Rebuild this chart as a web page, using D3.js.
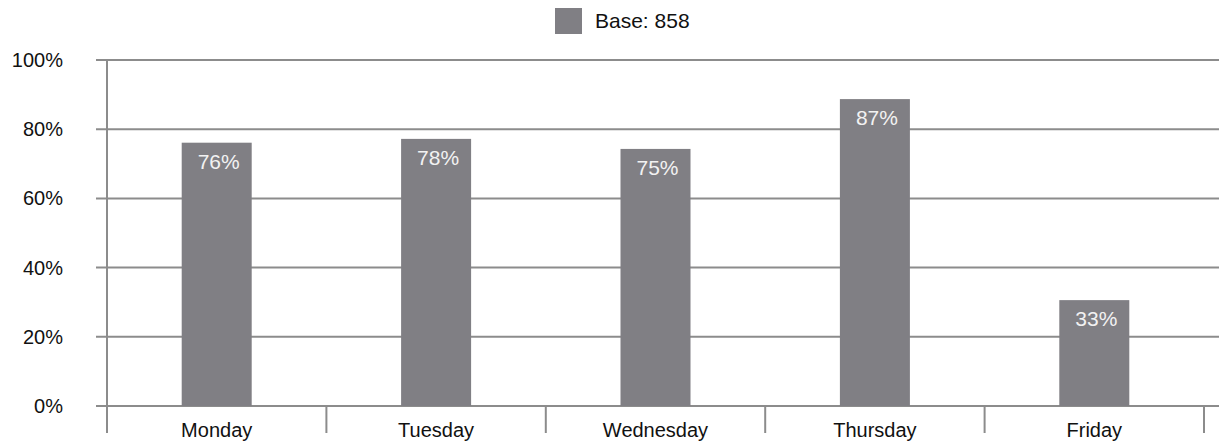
<!DOCTYPE html>
<html>
<head>
<meta charset="utf-8">
<script src="https://cdn.jsdelivr.net/npm/d3@7"></script>
<style>
  body { margin: 0; background: #fff; }
  svg text { font-family: "Liberation Sans", Arial, sans-serif; }
</style>
</head>
<body>
<div id="chart"></div>
<script>
// chart data
const days = ["Monday", "Tuesday", "Wednesday", "Thursday", "Friday"];
const barValues = [76.1, 77.2, 74.3, 88.7, 30.6];
const barLabels = ["76%", "78%", "75%", "87%", "33%"];
const yTicks = [0, 20, 40, 60, 80, 100];
const legendLabel = "Base: 858";

const width = 1219, height = 443;
const margin = { top: 60, right: 15, bottom: 37, left: 107 };
const innerW = width - margin.left - margin.right;
const innerH = height - margin.top - margin.bottom;

const barColor = "#807f84";
const lineColor = "#8c8c8c";

const svg = d3.select("#chart").append("svg")
    .attr("width", width)
    .attr("height", height);

const g = svg.append("g")
    .attr("transform", `translate(${margin.left},${margin.top})`);

const x = d3.scaleBand().domain(days).range([0, innerW]).padding(0);
const y = d3.scaleLinear().domain([0, 100]).range([innerH, 0]);

// gridlines (also y ticks, extending left of axis)
g.selectAll(".grid")
    .data(yTicks)
    .enter().append("line")
    .attr("x1", -11)
    .attr("x2", width - margin.left)
    .attr("y1", d => y(d))
    .attr("y2", d => y(d))
    .attr("stroke", lineColor)
    .attr("stroke-width", 2);

// y labels
g.selectAll(".ylab")
    .data(yTicks)
    .enter().append("text")
    .attr("x", -44)
    .attr("y", d => y(d))
    .attr("dy", "0.35em")
    .attr("text-anchor", "end")
    .attr("font-size", 20)
    .attr("fill", "#111")
    .text(d => d + "%");

// y axis line
g.append("line")
    .attr("x1", 0).attr("x2", 0)
    .attr("y1", 0).attr("y2", innerH + 27)
    .attr("stroke", lineColor)
    .attr("stroke-width", 2);

// x category boundary ticks
const bounds = days.map(d => x(d) + x.bandwidth());
g.selectAll(".xtick")
    .data(bounds)
    .enter().append("line")
    .attr("x1", d => d).attr("x2", d => d)
    .attr("y1", innerH).attr("y2", innerH + 27)
    .attr("stroke", lineColor)
    .attr("stroke-width", 2);

// x labels
g.selectAll(".xlab")
    .data(days)
    .enter().append("text")
    .attr("x", d => x(d) + x.bandwidth() / 2)
    .attr("y", innerH + 31)
    .attr("text-anchor", "middle")
    .attr("font-size", 20)
    .attr("fill", "#111")
    .text(d => d);

// bars
const barW = 70;
g.selectAll(".bar")
    .data(days)
    .enter().append("rect")
    .attr("x", d => x(d) + (x.bandwidth() - barW) / 2)
    .attr("y", (d, i) => y(barValues[i]))
    .attr("width", barW)
    .attr("height", (d, i) => innerH - y(barValues[i]))
    .attr("fill", barColor);

// value labels inside bars
g.selectAll(".vlab")
    .data(days)
    .enter().append("text")
    .attr("x", d => x(d) + x.bandwidth() / 2 + 2)
    .attr("y", (d, i) => y(barValues[i]) + 26)
    .attr("text-anchor", "middle")
    .attr("font-size", 21)
    .attr("fill", "#f2f2f2")
    .text((d, i) => barLabels[i]);

// legend
const legend = svg.append("g").attr("transform", "translate(555,8)");
legend.append("rect")
    .attr("width", 27).attr("height", 26)
    .attr("fill", barColor);
legend.append("text")
    .attr("x", 40)
    .attr("y", 13)
    .attr("dy", "0.35em")
    .attr("font-size", 21)
    .attr("fill", "#111")
    .text(legendLabel);
</script>
</body>
</html>
